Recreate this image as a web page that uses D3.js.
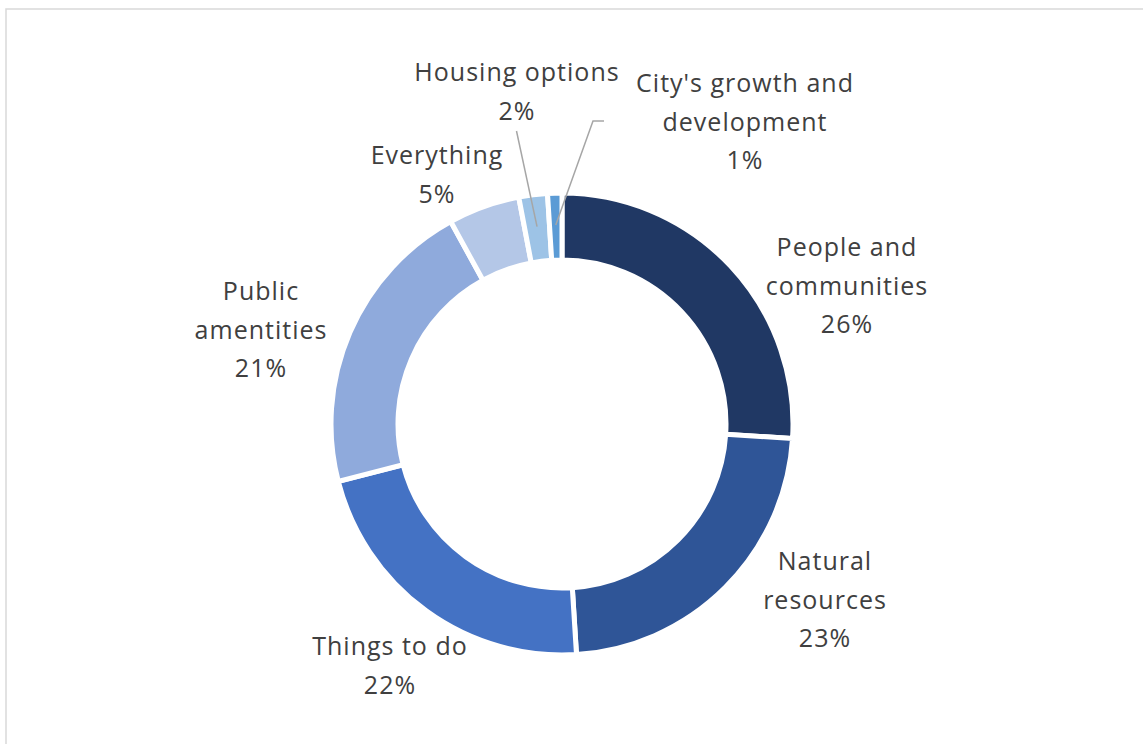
<!DOCTYPE html>
<html><head><meta charset="utf-8">
<script src="https://cdn.jsdelivr.net/npm/d3@7"></script>
<style>
html,body{margin:0;padding:0;background:#fff;}
svg{display:block;}
</style></head>
<body>
<svg id="chart" width="1143" height="744"></svg>
<script>
const categories = ["People and communities","Natural resources","Things to do","Public amentities","Everything","Housing options","City's growth and development"];
const values = [26, 23, 22, 21, 5, 2, 1];
const colors = ["#203864","#2F5597","#4472C4","#8FAADC","#B4C7E7","#9DC3E6","#5B9BD5"];
const labelLines = [
  ["People and","communities","26%"],
  ["Natural","resources","23%"],
  ["Things to do","22%"],
  ["Public","amentities","21%"],
  ["Everything","5%"],
  ["Housing options","2%"],
  ["City's growth and","development","1%"]
];
// label layout (center x, first baseline y)
const labelPos = [[847,256],[825,570],[390,655],[261,300],[437,164],[517,81],[745,92]];

const svg = d3.select("#chart");
svg.append("rect").attr("x",6).attr("y",9).attr("width",1160).attr("height",760)
  .attr("fill","#fff").attr("stroke","#D9D9D9").attr("stroke-width",1.5);

const cx = 562, cy = 424, R = 231, r = 164;
const g = svg.append("g").attr("transform",`translate(${cx},${cy})`);
const pie = d3.pie().sort(null).value(d=>d);
const arcs = pie(values);
const arc = d3.arc().innerRadius(r).outerRadius(R);
g.selectAll("path").data(arcs).enter().append("path")
  .attr("d",arc).attr("fill",(d,i)=>colors[i])
  .attr("stroke","#fff").attr("stroke-width",5).attr("stroke-linejoin","miter");

// leader lines
const leaderColor = "#A6A6A6";
const hArc = arcs[5], cArc = arcs[6];
const pt = (a, rad) => [cx + rad*Math.sin(a), cy - rad*Math.cos(a)];
const hMid = (hArc.startAngle+hArc.endAngle)/2, cMid = (cArc.startAngle+cArc.endAngle)/2;
const hp = pt(hMid, R-32), cp = pt(cMid, R-32);
svg.append("path").attr("d",`M516.5,131 L${hp[0]},${hp[1]}`).attr("stroke",leaderColor).attr("stroke-width",1.5).attr("fill","none");
svg.append("path").attr("d",`M604,121 L593,121 L${cp[0]},${cp[1]}`).attr("stroke",leaderColor).attr("stroke-width",1.5).attr("fill","none");

const lg = svg.append("g").attr("font-family","Open Sans, sans-serif").attr("font-size",25)
  .attr("letter-spacing",1).attr("fill","#404040").attr("text-anchor","middle");
labelLines.forEach((lines,i)=>{
  const t = lg.append("text").attr("x",labelPos[i][0]).attr("y",labelPos[i][1]);
  lines.forEach((s,j)=>{
    t.append("tspan").attr("x",labelPos[i][0]).attr("dy", j===0?0:38.5).text(s);
  });
});
</script>
</body></html>
